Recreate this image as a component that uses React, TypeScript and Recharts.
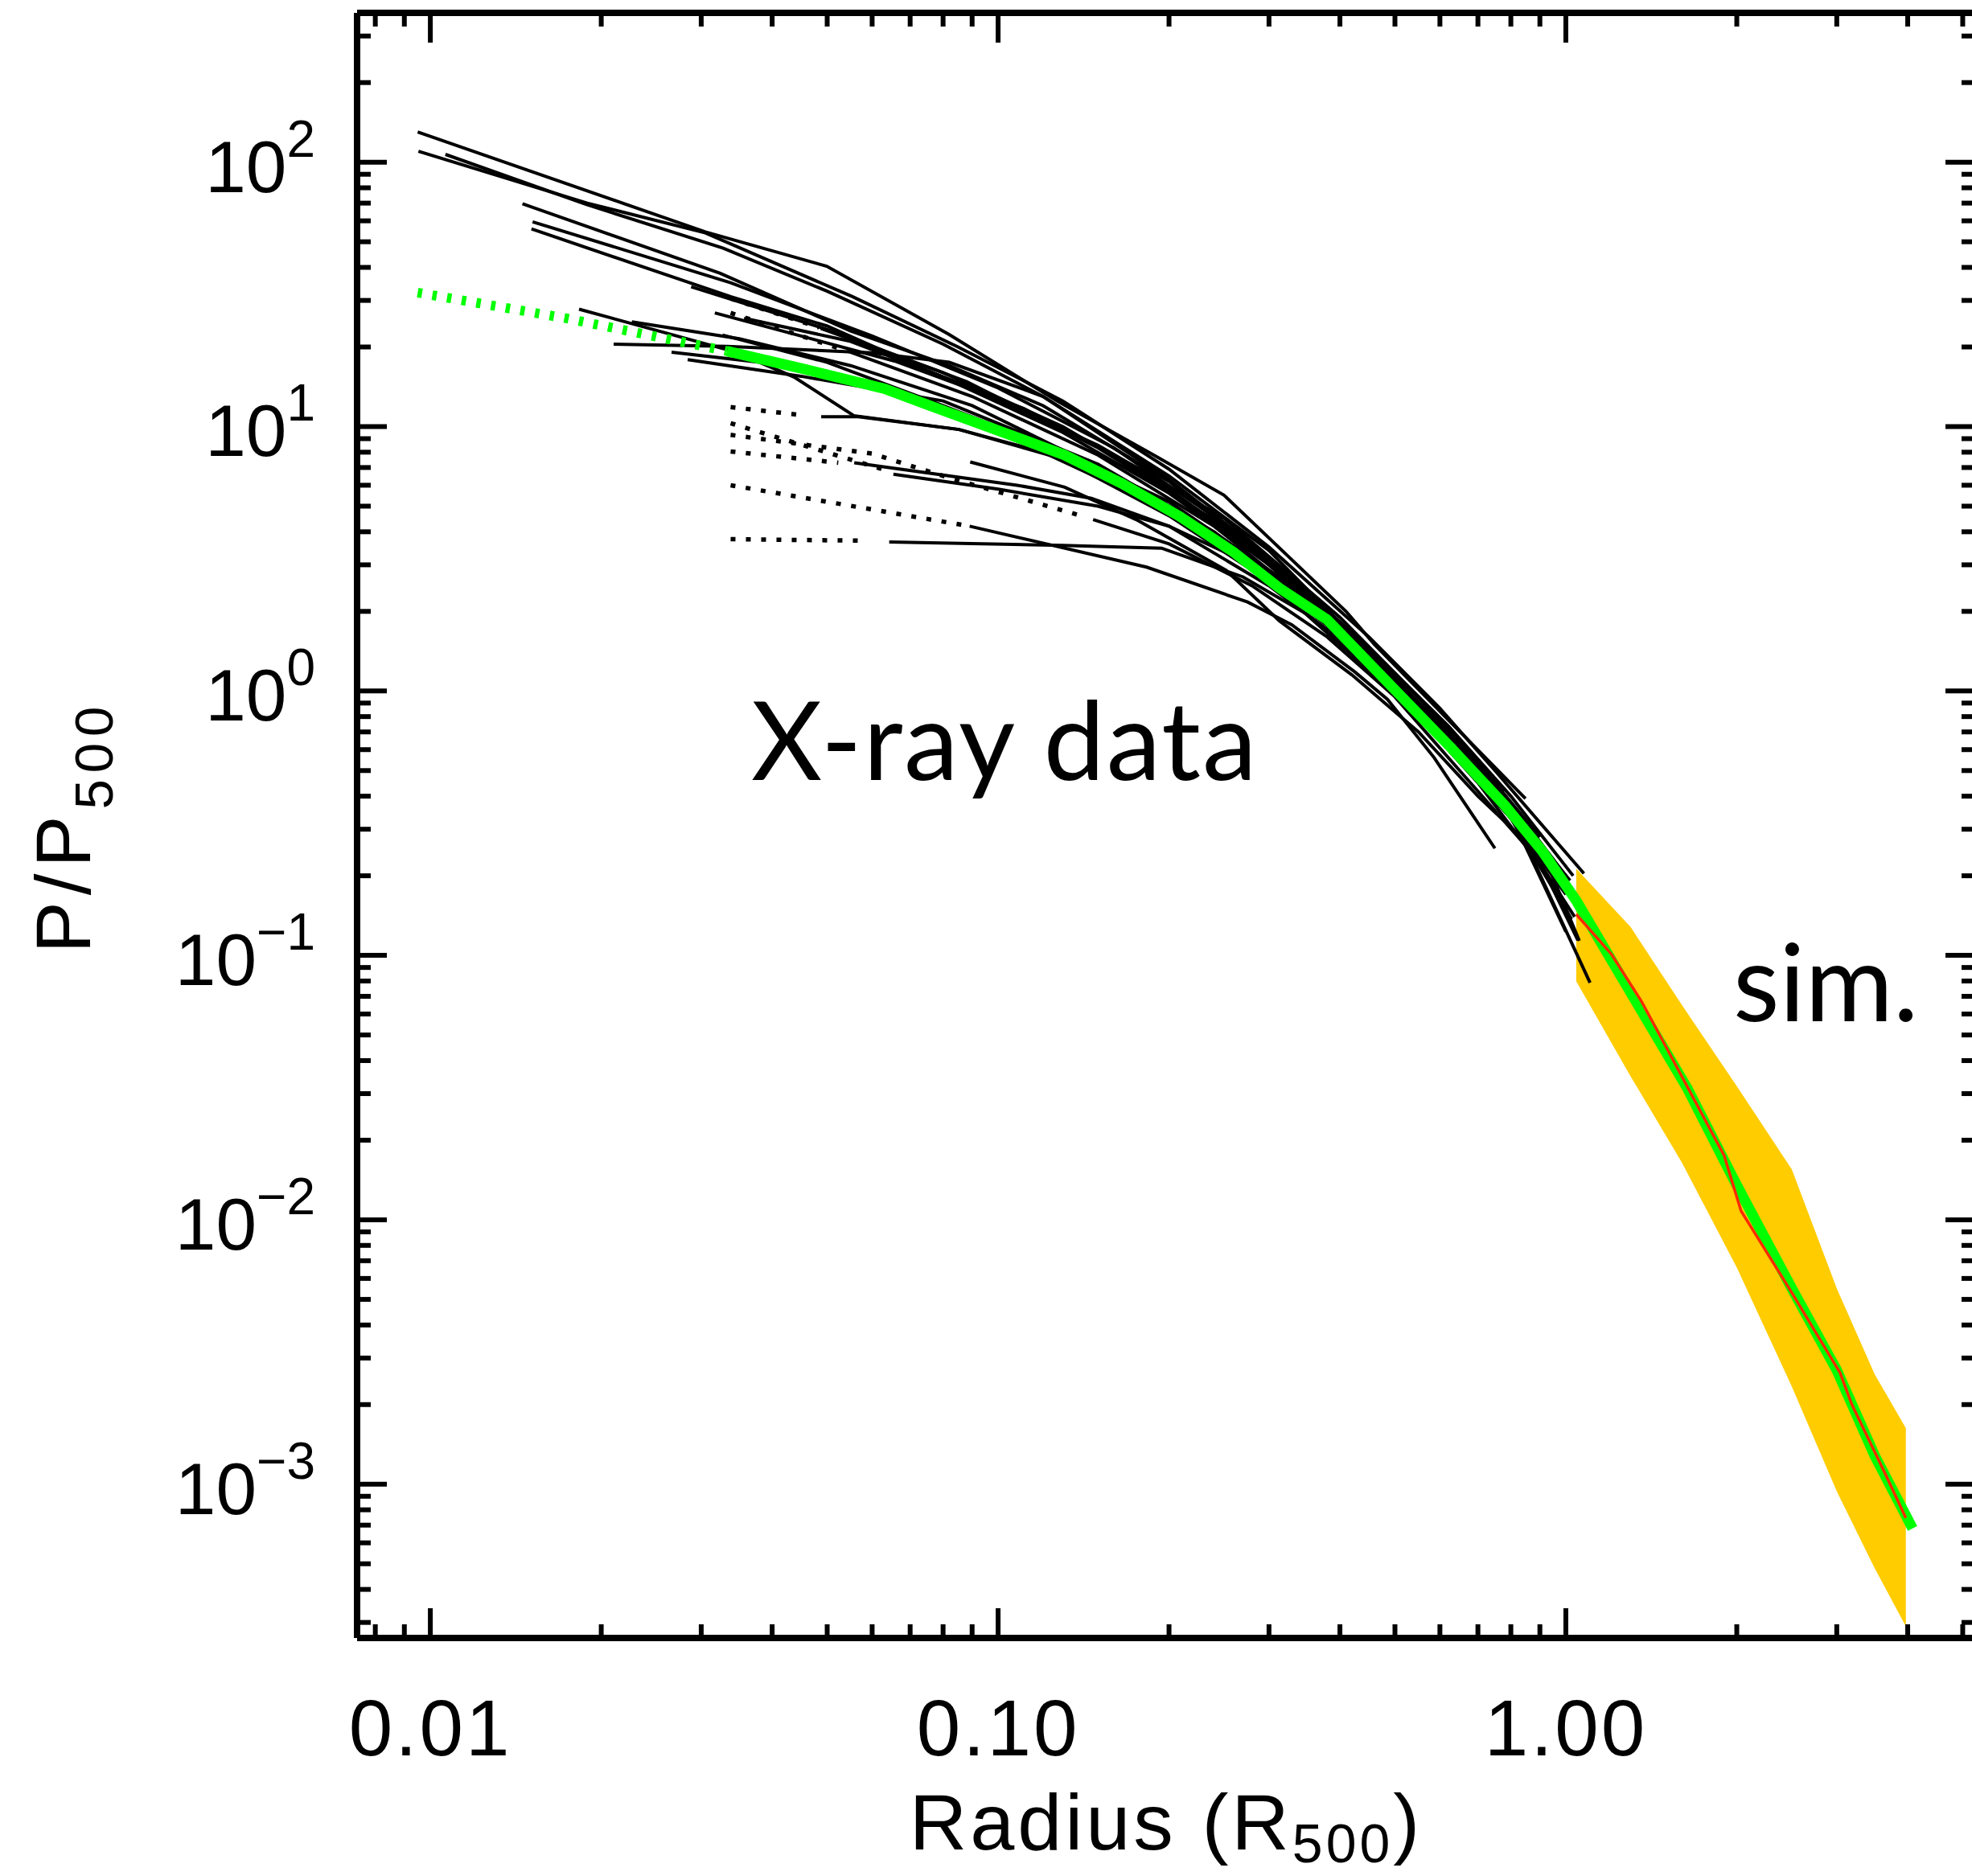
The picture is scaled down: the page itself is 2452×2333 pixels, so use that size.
import React from "react";
import { ComposedChart, Line, Area, XAxis, YAxis } from "recharts";

// ─── Types ────────────────────────────────────────────────

type Pair = [number, number];

// ─── Axis ranges and ticks ────────────────────────────────

const xRange: Pair = [0.00743, 5.26];
const yRange: Pair = [2.62e-4, 367];

const xMajor = [0.01, 0.1, 1];
const xMajorLabels = ["0.01", "0.10", "1.00"];
const xMinor = [
  0.008, 0.009, 0.02, 0.03, 0.04, 0.05, 0.06, 0.07, 0.08, 0.09, 0.2, 0.3,
  0.4, 0.5, 0.6, 0.7, 0.8, 0.9, 2, 3, 4, 5,
];

const yMajor = [1e-3, 1e-2, 1e-1, 1, 10, 100];
const yMajorExponents = ["−3", "−2", "−1", "0", "1", "2"];
const yMinor = [
  3e-4, 4e-4, 5e-4, 6e-4, 7e-4, 8e-4, 9e-4,
  2e-3, 3e-3, 4e-3, 5e-3, 6e-3, 7e-3, 8e-3, 9e-3,
  0.02, 0.03, 0.04, 0.05, 0.06, 0.07, 0.08, 0.09,
  0.2, 0.3, 0.4, 0.5, 0.6, 0.7, 0.8, 0.9,
  2, 3, 4, 5, 6, 7, 8, 9,
  20, 30, 40, 50, 60, 70, 80, 90,
  200, 300,
];

// ─── Model fit (green) ────────────────────────────────────

const fitInner: Pair[] = [[0.0095, 32.1], [0.0173, 25.7], [0.0333, 19.3]];
const fitOuter: Pair[] = [
  [0.0333, 19.3], [0.045, 16.6], [0.0631, 13.9], [0.0809, 11.4], [0.105, 9.3],
  [0.1306, 7.82], [0.165, 6.1], [0.2083, 4.59], [0.26, 3.35], [0.313, 2.45],
  [0.38, 1.86], [0.485, 1.08], [0.625, 0.616], [0.78, 0.37], [0.91, 0.247],
  [1.043, 0.161], [1.323, 0.068], [1.637, 0.0314], [2.0, 0.0135], [2.5, 0.0055],
  [3.0, 0.0027], [3.5, 0.00128], [4.08, 6.8e-4],
];

// ─── Simulations (red median, yellow scatter) ─────────────

const simMedian: Pair[] = [
  [1.043, 0.143], [1.203, 0.101], [1.359, 0.067], [1.47, 0.049], [1.9, 0.0175],
  [2.035, 0.0108], [2.5, 0.0053], [3.04, 0.00264], [3.19, 0.002], [3.64, 0.00111],
  [3.97, 7.45e-4],
];
const simBandX = [1.043, 1.3, 1.6, 2.0, 2.5, 3.0, 3.5, 3.97];
const simBandLow = [0.0798, 0.0349, 0.0165, 0.0066, 0.00234, 9.4e-4, 4.8e-4, 2.9e-4];
const simBandHigh = [0.213, 0.128, 0.065, 0.032, 0.0155, 0.0055, 0.0026, 0.00163];

// ─── X-ray cluster profiles (black, solid) ────────────────

const prof01: Pair[] = [[0.0095, 130], [0.0305, 54.5], [0.0499, 40.4], [0.082, 22.3], [0.127, 12.5], [0.19, 7.7], [0.25, 5.5], [0.41, 2.0], [0.46, 1.5], [0.62, 0.78], [0.849, 0.392]];
const prof02: Pair[] = [[0.00953, 110], [0.0189, 70], [0.0305, 54], [0.0554, 31], [0.085, 20], [0.13, 12.5], [0.2, 6.9], [0.3, 3.5], [0.45, 1.6], [0.6, 0.86], [0.75, 0.5], [1.076, 0.204]];
const prof03: Pair[] = [[0.01063, 107], [0.0189, 69], [0.0328, 47.3], [0.05, 32.5], [0.08, 20.5], [0.12, 13], [0.2, 6.3], [0.3, 3.2], [0.45, 1.45], [0.62, 0.74], [0.8, 0.4], [1.03, 0.2]];
const prof04: Pair[] = [[0.01453, 69.6], [0.0324, 38], [0.055, 23], [0.082, 17], [0.12, 12], [0.2, 6.2], [0.3, 3.1], [0.45, 1.45], [0.6, 0.78], [0.78, 0.42]];
const prof05: Pair[] = [[0.01514, 59.5], [0.0338, 35], [0.06, 22], [0.1, 14], [0.16, 8.3], [0.25, 4.3], [0.35, 2.4], [0.5, 1.1], [0.65, 0.58], [0.8, 0.36], [1.017, 0.192]];
const prof06: Pair[] = [[0.01507, 55.9], [0.0338, 31], [0.05, 24], [0.082, 15], [0.13, 9.5], [0.2, 5.6], [0.3, 3.0], [0.42, 1.65], [0.6, 0.74], [0.78, 0.38], [1.0, 0.123]];
const prof07: Pair[] = [[0.0288, 33.8], [0.0503, 23.2], [0.088, 14.8], [0.15, 8.3], [0.25, 4.2], [0.4, 1.8], [0.55, 0.95], [0.72, 0.5], [0.9, 0.28]];
const prof08: Pair[] = [[0.0317, 26.9], [0.0657, 17.7], [0.111, 11.7], [0.18, 6.8], [0.28, 3.4], [0.4, 1.75], [0.55, 0.88], [0.7, 0.5], [0.85, 0.32]];
const prof09: Pair[] = [[0.01828, 27.8], [0.0328, 19.7], [0.05, 16], [0.082, 11.2], [0.13, 7.5], [0.2, 4.6], [0.3, 2.6], [0.45, 1.2], [0.62, 0.62], [0.8, 0.33], [1.023, 0.137]];
const prof10: Pair[] = [[0.02264, 24.9], [0.035, 21.5], [0.055, 17], [0.09, 12], [0.15, 7], [0.24, 4], [0.35, 2.2], [0.5, 1.05], [0.7, 0.47], [0.9, 0.26], [1.056, 0.1135]];
const prof11: Pair[] = [[0.02103, 20.5], [0.0333, 20.1], [0.06, 19], [0.082, 17.5], [0.12, 13], [0.2, 6.5], [0.3, 3.4], [0.45, 1.4], [0.6, 0.7], [0.78, 0.36], [1.036, 0.14]];
const prof12: Pair[] = [[0.0266, 19.1], [0.038, 17.5], [0.0437, 15.4], [0.0557, 11], [0.0853, 9.75], [0.12, 8], [0.2, 4.8], [0.3, 2.6], [0.42, 1.5], [0.6, 0.68], [0.8, 0.33]];
const prof13: Pair[] = [[0.0284, 17.9], [0.045, 15.5], [0.08, 12.5], [0.15, 7.2], [0.24, 4], [0.35, 2.1], [0.5, 1.0], [0.65, 0.55], [0.85, 0.29], [1.05, 0.114]];
const prof14: Pair[] = [[0.0327, 22.2], [0.05, 17.5], [0.08, 12], [0.13, 8], [0.2, 5.2], [0.32, 2.6], [0.45, 1.35], [0.6, 0.72], [0.8, 0.35], [1.103, 0.0788]];
const prof15: Pair[] = [[0.0357, 25.7], [0.055, 21], [0.09, 14], [0.15, 8.5], [0.25, 4.5], [0.4, 1.9], [0.55, 0.95], [0.75, 0.45], [1.0, 0.2]];
const prof16: Pair[] = [[0.0893, 7.35], [0.131, 5.9], [0.175, 4.45], [0.252, 2.86], [0.313, 1.84], [0.42, 1.15], [0.55, 0.7], [0.7, 0.4], [0.85, 0.27]];
const profA: Pair[] = [[0.0487, 23.5], [0.08, 16], [0.13, 10], [0.2, 5.8], [0.3, 3.1], [0.45, 1.4], [0.6, 0.75], [0.8, 0.37], [1.05, 0.15]];
const profB: Pair[] = [[0.0543, 19.3], [0.09, 13], [0.15, 7.8], [0.24, 4.2], [0.35, 2.2], [0.5, 1.05], [0.7, 0.48], [0.9, 0.25]];
const profC: Pair[] = [[0.0488, 10.9], [0.0567, 10.9], [0.0854, 9.75], [0.14, 7.2], [0.22, 4.5], [0.32, 2.6], [0.45, 1.4], [0.6, 0.72], [0.8, 0.34], [0.98, 0.2]];
const profD: Pair[] = [[0.0654, 6.6], [0.1, 5.8], [0.15, 5.0], [0.2, 4.2], [0.3, 2.8], [0.42, 1.6], [0.6, 0.65], [0.8, 0.33], [1.0, 0.17]];
const profE: Pair[] = [[0.147, 4.45], [0.2, 3.6], [0.28, 2.5], [0.38, 1.6], [0.5, 0.95], [0.65, 0.5], [0.85, 0.26]];
const profF: Pair[] = [[0.0558, 7.3], [0.108, 6.0], [0.146, 5.35], [0.2, 4.2], [0.3, 2.5], [0.42, 1.45], [0.55, 0.8], [0.7, 0.45], [0.9, 0.22]];
const profG: Pair[] = [[0.0891, 4.2], [0.1826, 2.94], [0.275, 2.17], [0.329, 1.78], [0.425, 1.18], [0.485, 0.93], [0.586, 0.56], [0.75, 0.254]];
const profH: Pair[] = [[0.0643, 3.66], [0.13, 3.55], [0.194, 3.47], [0.27, 2.7], [0.35, 1.95], [0.5, 1.0], [0.65, 0.55], [0.85, 0.3], [1.0, 0.18]];

// inner extrapolations (black, dotted)
const innerA: Pair[] = [[0.0338, 30.5], [0.0484, 23.7]];
const innerB: Pair[] = [[0.0338, 26.9], [0.0543, 19.3]];
const innerC: Pair[] = [[0.0338, 11.85], [0.0459, 11.0]];
const innerD: Pair[] = [[0.0338, 10.3], [0.064, 6.8]];
const innerE: Pair[] = [[0.0338, 9.3], [0.06, 7.9], [0.082, 6.4], [0.105, 5.5], [0.14, 4.6]];
const innerF: Pair[] = [[0.0338, 8.05], [0.0523, 7.3]];
const innerG: Pair[] = [[0.0338, 6.0], [0.0891, 4.2]];
const innerH: Pair[] = [[0.0338, 3.75], [0.0588, 3.7]];

const solidProfiles = [
  prof01, prof02, prof03, prof04, prof05, prof06, prof07, prof08, prof09, prof10,
  prof11, prof12, prof13, prof14, prof15, prof16,
  profA, profB, profC, profD, profE, profF, profG, profH,
];
const dottedProfiles = [innerA, innerB, innerC, innerD, innerE, innerF, innerG, innerH];

// ─── Helpers ──────────────────────────────────────────────

const toPts = (p: Pair[]) => p.map(([x, y]) => ({ x, y }));

const bandData = simBandX.map((x, i) => ({ x, range: [simBandLow[i], simBandHigh[i]] }));

const AXIS_FONT = "'Liberation Sans', Arial, sans-serif";
const NOTE_FONT = "Lato, 'Open Sans', sans-serif";
const MAJOR_LEN = 37;
const MINOR_LEN = 17;
const TICK_W = 6;

// ─── Tick renderers (IDL-style inward ticks) ──────────────

function BottomTick({ x, y, payload }: any) {
  const i = xMajor.indexOf(payload.value);
  return (
    <g>
      <line x1={x} x2={x} y1={y} y2={y - (i >= 0 ? MAJOR_LEN : MINOR_LEN)} stroke="#000" strokeWidth={TICK_W} />
      {i >= 0 && (
        <text x={x} y={y + 146} textAnchor="middle" fontFamily={AXIS_FONT} fontSize={98} letterSpacing={3} fill="#000">
          {xMajorLabels[i]}
        </text>
      )}
    </g>
  );
}

function TopTick({ x, y, payload }: any) {
  const major = xMajor.includes(payload.value);
  return <line x1={x} x2={x} y1={y} y2={y + (major ? MAJOR_LEN : MINOR_LEN)} stroke="#000" strokeWidth={TICK_W} />;
}

function LeftTick({ x, y, payload }: any) {
  const i = yMajor.indexOf(payload.value);
  return (
    <g>
      <line x1={x} x2={x + (i >= 0 ? MAJOR_LEN : MINOR_LEN)} y1={y} y2={y} stroke="#000" strokeWidth={TICK_W} />
      {i >= 0 && (
        <text x={x - 52} y={y + 37} textAnchor="end" fontFamily={AXIS_FONT} fontSize={91} fill="#000">
          10
          <tspan dy={-44} fontSize={64}>{yMajorExponents[i]}</tspan>
        </text>
      )}
    </g>
  );
}

function RightTick({ x, y, payload }: any) {
  const major = yMajor.includes(payload.value);
  return <line x1={x} x2={x - (major ? MAJOR_LEN : MINOR_LEN)} y1={y} y2={y} stroke="#000" strokeWidth={TICK_W} />;
}

// ─── Main Component ───────────────────────────────────────

export default function App() {
  const xTicks = [...xMinor, ...xMajor].sort((a, b) => a - b);
  const yTicks = [...yMinor, ...yMajor].sort((a, b) => a - b);
  const axisLine = { stroke: "#000", strokeWidth: 8 };

  return (
    <div style={{ position: "absolute", left: 0, top: 0, width: 2452, height: 2333, overflow: "hidden", background: "#fff" }}>
      <ComposedChart width={2460} height={2333} margin={{ top: 15, right: 3, bottom: 146, left: 144 }}>
        <XAxis
          dataKey="x" type="number" scale="log" domain={xRange} allowDataOverflow
          ticks={xTicks} interval={0} tickLine={false} tickSize={0} tickMargin={0}
          axisLine={axisLine} height={150} tick={(p: any) => <BottomTick {...p} />}
        />
        <XAxis
          xAxisId="top" orientation="top" dataKey="x" type="number" scale="log" domain={xRange} allowDataOverflow
          ticks={xTicks} interval={0} tickLine={false} tickSize={0} tickMargin={0}
          axisLine={axisLine} height={1} tick={(p: any) => <TopTick {...p} />}
        />
        <YAxis
          type="number" scale="log" domain={yRange} allowDataOverflow
          ticks={yTicks} interval={0} tickLine={false} tickSize={0} tickMargin={0}
          axisLine={axisLine} width={300} tick={(p: any) => <LeftTick {...p} />}
        />
        <YAxis
          yAxisId="right" orientation="right" type="number" scale="log" domain={yRange} allowDataOverflow
          ticks={yTicks} interval={0} tickLine={false} tickSize={0} tickMargin={0}
          axisLine={axisLine} width={1} tick={(p: any) => <RightTick {...p} />}
        />

        <Area
          data={bandData} dataKey="range" type="linear" stroke="none" fill="#ffcc00" fillOpacity={1}
          isAnimationActive={false} dot={false} activeDot={false}
        />

        {solidProfiles.map((p, i) => (
          <Line
            key={`s${i}`} data={toPts(p)} dataKey="y" type="linear" stroke="#000" strokeWidth={4}
            dot={false} activeDot={false} isAnimationActive={false}
          />
        ))}
        {dottedProfiles.map((p, i) => (
          <Line
            key={`d${i}`} data={toPts(p)} dataKey="y" type="linear" stroke="#000" strokeWidth={5.5}
            strokeDasharray="6 13" dot={false} activeDot={false} isAnimationActive={false}
          />
        ))}

        <Line
          data={toPts(fitInner)} dataKey="y" type="linear" stroke="#00ff00" strokeWidth={12}
          strokeDasharray="5.5 13" dot={false} activeDot={false} isAnimationActive={false}
        />
        <Line
          data={toPts(fitOuter)} dataKey="y" type="linear" stroke="#00ff00" strokeWidth={13}
          dot={false} activeDot={false} isAnimationActive={false}
        />
        <Line
          data={toPts(simMedian)} dataKey="y" type="linear" stroke="#ff2a00" strokeWidth={3.5}
          dot={false} activeDot={false} isAnimationActive={false}
        />
      </ComposedChart>

      <svg width={2452} height={2333} style={{ position: "absolute", left: 0, top: 0, pointerEvents: "none" }}>
        <text x={934} y={970} fontFamily={NOTE_FONT} fontSize={136} letterSpacing={2} fill="#000">X-ray data</text>
        <text x={2155} y={1270} fontFamily={NOTE_FONT} fontSize={133} fill="#000">sim.</text>
        <text x={1450} y={2300} textAnchor="middle" fontFamily={AXIS_FONT} fontSize={99} letterSpacing={4} fill="#000">
          Radius (R<tspan dy={16} fontSize={68}>500</tspan><tspan dy={-16}>)</tspan>
        </text>
        <text
          x={112} y={1028} transform="rotate(-90 112 1028)" textAnchor="middle"
          fontFamily={AXIS_FONT} fontSize={96} letterSpacing={8} fill="#000"
        >
          P/P<tspan dy={28} fontSize={67}>500</tspan>
        </text>
      </svg>
    </div>
  );
}
